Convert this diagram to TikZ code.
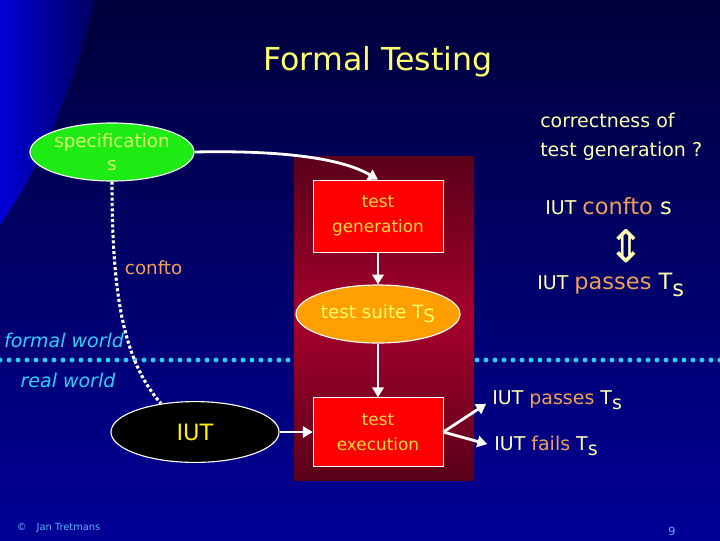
\documentclass[tikz,border=0pt]{standalone}
\usepackage{fontspec}
\setmainfont{DejaVu Sans}
\usetikzlibrary{arrows.meta,shapes.geometric}

\definecolor{bgtop}{RGB}{0,0,60}
\definecolor{bgbot}{RGB}{0,0,150}
\definecolor{lobe}{RGB}{0,0,215}
\definecolor{zonedark}{RGB}{90,0,25}
\definecolor{zonemid}{RGB}{165,0,45}
\definecolor{boxred}{RGB}{255,0,0}
\definecolor{gentext}{RGB}{255,215,60}
\definecolor{spectext}{RGB}{215,255,110}
\definecolor{specgreen}{RGB}{30,235,20}
\definecolor{suiteorange}{RGB}{255,160,0}
\definecolor{titletext}{RGB}{255,255,110}
\definecolor{lighttext}{RGB}{255,255,175}
\definecolor{hot}{RGB}{240,160,90}
\definecolor{world}{RGB}{40,210,255}
\definecolor{credit}{RGB}{90,180,255}

\begin{document}
\begin{tikzpicture}[x=0.025cm, y=-0.025cm,
    redbox/.style={draw=white, fill=boxred, minimum width=3.25cm, minimum height=1.8cm, inner sep=0pt, align=center, text=gentext, font=\fontsize{12}{18}\selectfont},
    blob/.style={ellipse, draw=white, thick, minimum width=4.1cm, minimum height=1.45cm, inner sep=0pt, align=center, font=\fontsize{13}{16}\selectfont},
    arr/.style={-{Triangle[width=8pt,length=7pt]}, white, line width=2pt},
    side/.style={anchor=west, inner sep=0pt, text=lighttext, font=\fontsize{13.5}{15}\selectfont},
    worldtext/.style={text=world, font=\fontsize{13.5}{15}\selectfont\itshape}
]
    % background
    \useasboundingbox (0,0) rectangle (720,540);
    \shade[top color=bgtop, bottom color=bgbot] (0,0) rectangle (720,540);
    \shade[left color=lobe, right color=bgtop!60!bgbot] (0,0) -- (95,0) .. controls (70,100) and (35,175) .. (0,225) -- cycle;

    % formal / real world border
    \draw[world, line width=3.5pt, line cap=round, dash pattern=on 0pt off 6.4pt] (0,360) -- (720,360);
    \shade[top color=zonedark, bottom color=zonedark, middle color=zonemid] (294,156) rectangle (474,480);

    \node[font=\fontsize{22.5}{26}\selectfont, text=titletext] (title) at (378,62) {Formal Testing};

    % diagram
    \node[blob, fill=specgreen, text=spectext] (spec) at (112,152) {specification\\s};
    \node[redbox] (gen) at (378,216) {test\\generation};
    \node[blob, fill=suiteorange, text=titletext] (suite) at (378,314) {test suite T\raisebox{-0.4ex}{S}};
    \node[redbox, minimum height=1.72cm] (exec) at (378,432) {test\\execution};
    \node[blob, fill=black, text=yellow, minimum width=4.2cm, minimum height=1.52cm, font=\fontsize{16}{18}\selectfont] (iut) at (195,432) {IUT};

    \draw[arr] (spec.east) .. controls (290,150) and (345,160) .. (gen.north);
    \draw[arr] (gen) -- (suite);
    \draw[arr] (suite) -- (exec);
    \draw[arr] (iut) -- (exec);
    \draw[white, line width=2.2pt, dash pattern=on 2.2pt off 1.6pt] (spec.south) .. controls (112,290) and (122,360) .. (iut.140);

    \node[anchor=west, text=hot, font=\fontsize{13}{15}\selectfont] (conf) at (120,268) {confto};
    \node[worldtext] (formal) at (64,340) {formal world};
    \node[worldtext] (real) at (68,380) {real world};

    % verdicts
    \node[side] (pass) at (492,400) {IUT \textcolor{hot}{passes} T\raisebox{-0.5ex}{s}};
    \node[side] (fail) at (494,446) {IUT \textcolor{hot}{fails} T\raisebox{-0.5ex}{s}};
    \draw[arr, shorten >=5pt] (exec.east) -- (pass.west);
    \draw[arr, shorten >=5pt] (exec.east) -- (fail.west);

    % question on the right
    \node[side] (corr) at (540,120) {correctness of};
    \node[side] (corr2) at (540,151) {test generation ?};
    \node[side] (rel) at (545,206) {IUT {\fontsize{16}{18}\selectfont\textcolor{hot}{confto} s}};
    \node[text=lighttext, font=\fontsize{32}{32}\selectfont] (equiv) at (626,246) {⇕};
    \node[side] (rel2) at (537,285) {IUT {\fontsize{16}{18}\selectfont\textcolor{hot}{passes} T\raisebox{-0.5ex}{s}}};

    % footer
    \node[anchor=west, text=credit, font=\fontsize{7}{8}\selectfont] (copy) at (12,528) {©\quad Jan Tretmans};
    \node[text=credit, font=\fontsize{8}{9}\selectfont] (page) at (672,531) {9};
\end{tikzpicture}
\end{document}
